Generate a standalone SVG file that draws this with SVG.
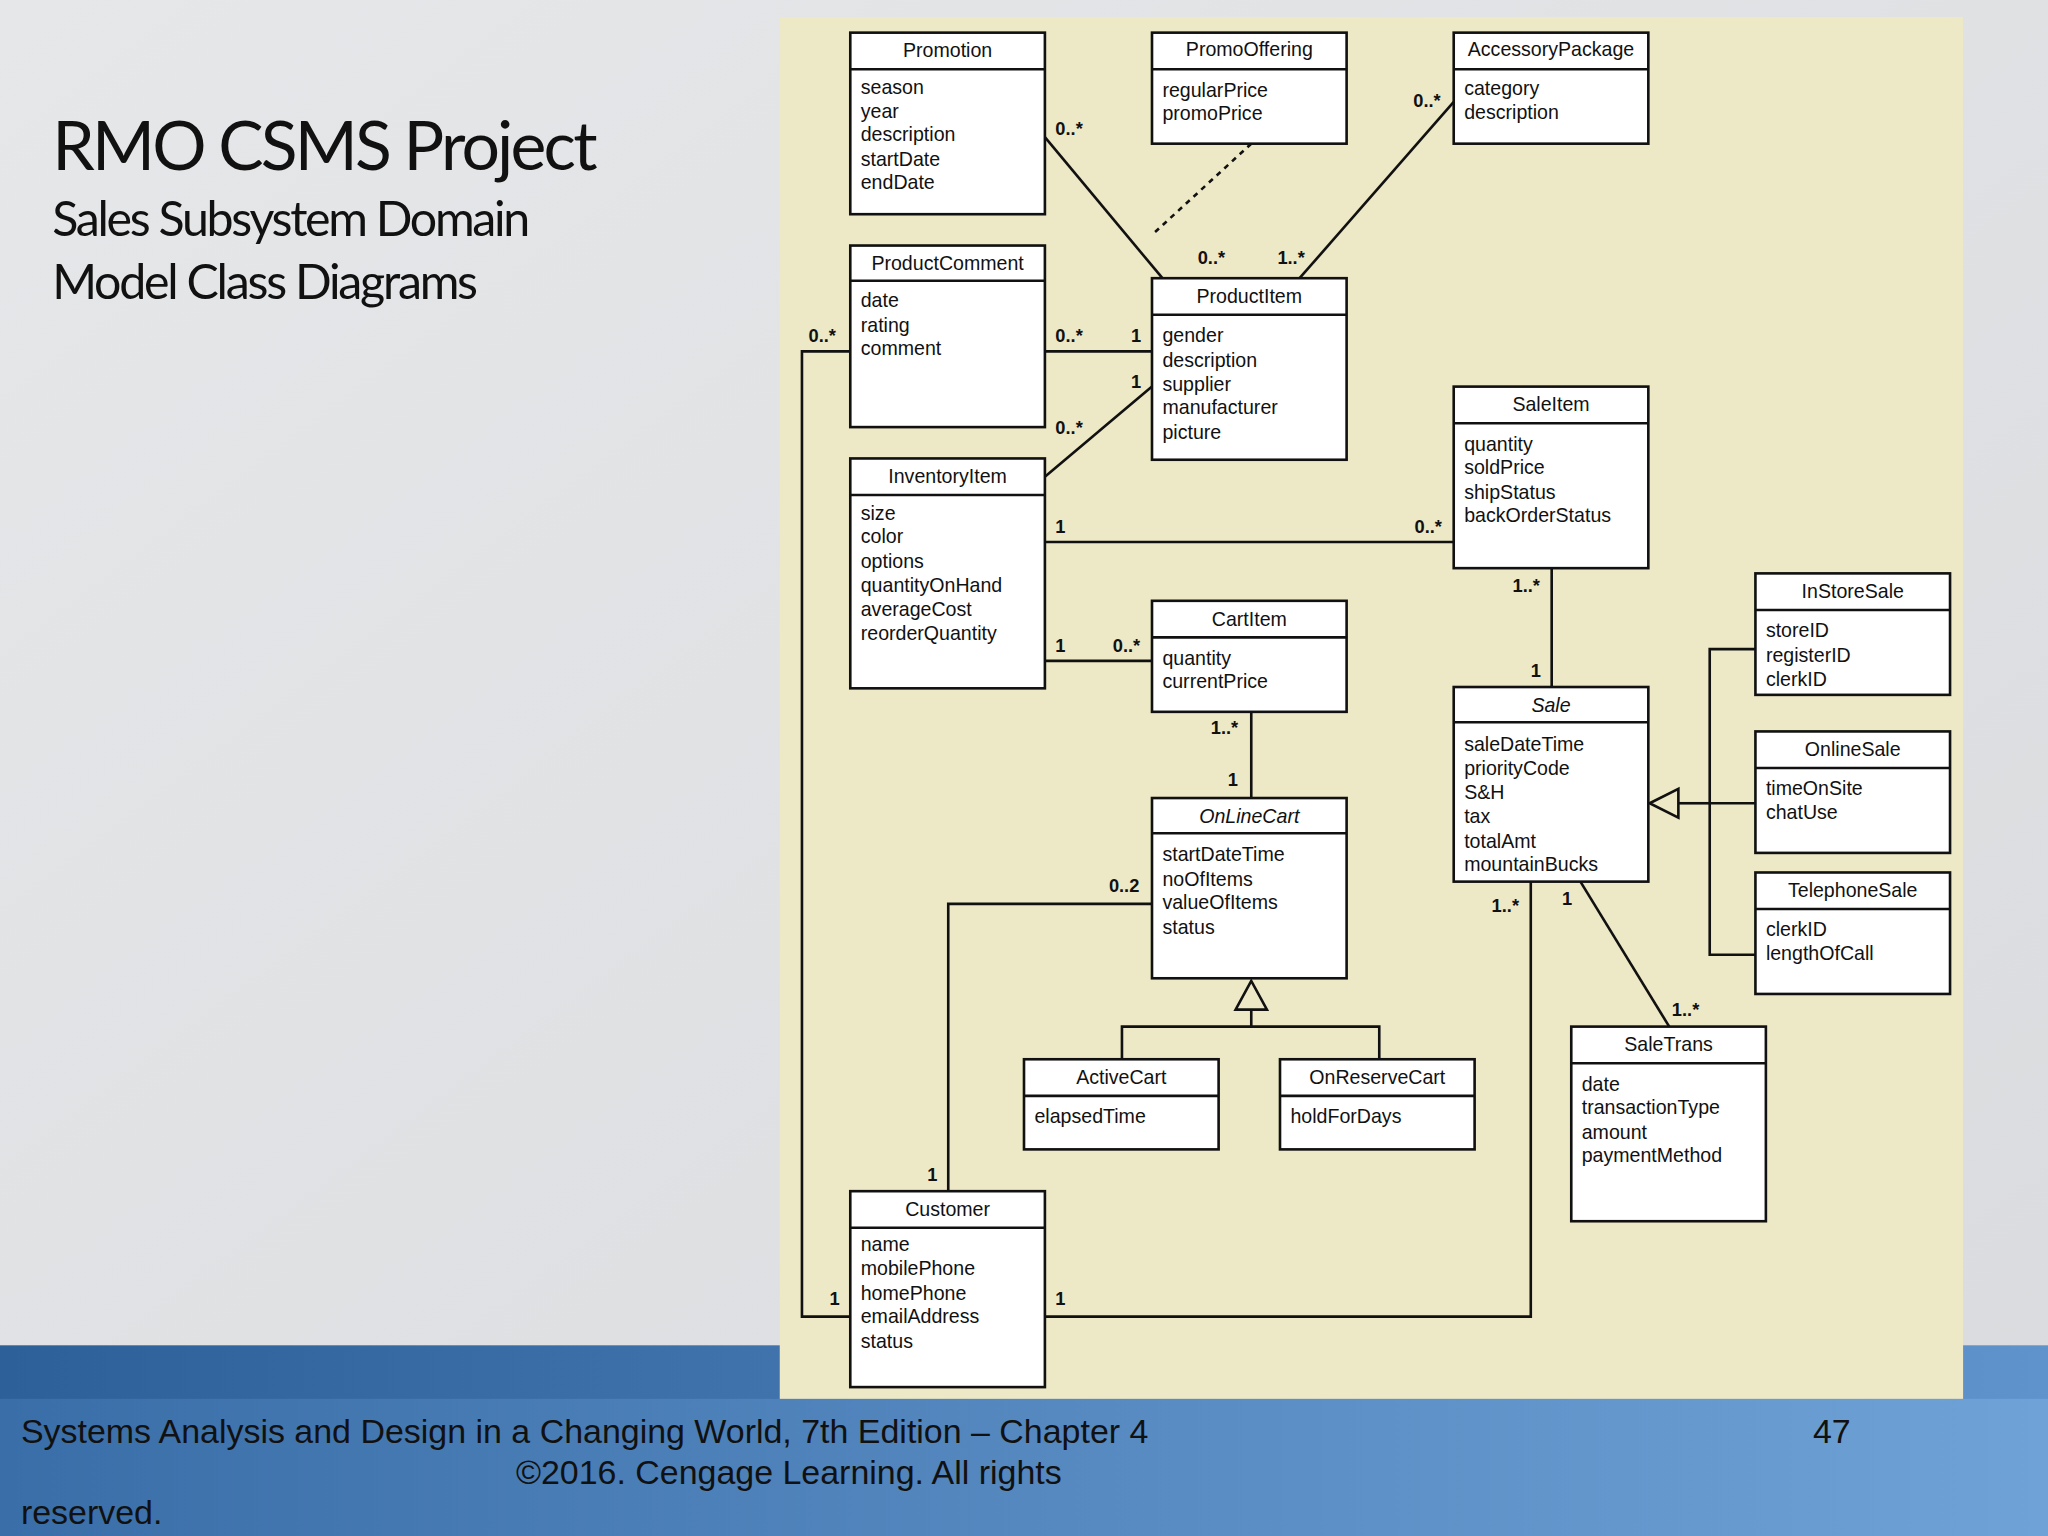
<svg xmlns="http://www.w3.org/2000/svg" width="2048" height="1536" viewBox="0 0 2048 1536">
<defs>
<linearGradient id="bg" x1="0" y1="0" x2="1" y2="1"><stop offset="0" stop-color="#e6e7e9"/><stop offset="1" stop-color="#d9dbde"/></linearGradient>
<linearGradient id="band" x1="0" y1="0" x2="1" y2="0"><stop offset="0" stop-color="#2d5f98"/><stop offset="1" stop-color="#5f93cc"/></linearGradient>
<linearGradient id="band2" x1="0" y1="0" x2="1" y2="0"><stop offset="0" stop-color="#3a6ea8"/><stop offset="1" stop-color="#6fa2d6"/></linearGradient>
</defs>
<style>
.box{fill:#fff;stroke:#111;stroke-width:2}
.ln{fill:none;stroke:#111;stroke-width:2}
.nm{font-family:"Liberation Sans",Arial,sans-serif;font-size:15px;text-anchor:middle;fill:#111}
.at{font-family:"Liberation Sans",Arial,sans-serif;font-size:15px;fill:#111}
.ml{font-family:"Liberation Sans",Arial,sans-serif;font-size:14px;font-weight:bold;fill:#111}
.ft{font-family:"Liberation Sans",Arial,sans-serif;font-size:26px;fill:#111}
</style>
<g transform="scale(1.306122)">
<rect x="0" y="0" width="1568" height="1176" fill="url(#bg)"/>
<rect x="0" y="1030" width="1568" height="146" fill="url(#band)"/>
<rect x="0" y="1071" width="1568" height="105" fill="url(#band2)"/>
<rect x="597" y="13" width="906" height="1058" fill="#ede8c6"/>
<g id="title">
<text x="40" y="130" font-family="Lato,'Open Sans',sans-serif" font-size="52" letter-spacing="-2.5" textLength="415" fill="#111">RMO CSMS Project</text>
<text x="40" y="181" font-family="Lato,'Open Sans',sans-serif" font-size="37" letter-spacing="-2" textLength="364" fill="#111">Sales Subsystem Domain</text>
<text x="40" y="229" font-family="Lato,'Open Sans',sans-serif" font-size="37" letter-spacing="-2" textLength="324" fill="#111">Model Class Diagrams</text>
</g>
<g id="footer">
<text class="ft" x="16" y="1105">Systems Analysis and Design in a Changing World, 7th Edition – Chapter 4</text>
<text class="ft" x="1388" y="1105">47</text>
<text class="ft" x="395" y="1136">©2016. Cengage Learning. All rights</text>
<text class="ft" x="16" y="1167">reserved.</text>
</g>
<g id="connectors">
<line class="ln" x1="800" y1="105" x2="890" y2="213"/>
<line class="ln" x1="958" y1="110" x2="884" y2="178" stroke-dasharray="4,4"/>
<line class="ln" x1="1113" y1="78" x2="995" y2="213"/>
<line class="ln" x1="800" y1="269" x2="882" y2="269"/>
<line class="ln" x1="800" y1="365" x2="882" y2="296"/>
<line class="ln" x1="800" y1="415" x2="1113" y2="415"/>
<line class="ln" x1="800" y1="506" x2="882" y2="506"/>
<line class="ln" x1="1188" y1="435" x2="1188" y2="526"/>
<line class="ln" x1="958" y1="545" x2="958" y2="611"/>
<polyline class="ln" points="882,692 726,692 726,912"/>
<polyline class="ln" points="651,269 614,269 614,1008 651,1008"/>
<polyline class="ln" points="800,1008 1172,1008 1172,675"/>
<line class="ln" x1="1210" y1="675" x2="1278" y2="786"/>
<polygon class="ln" points="1263,615 1285,604 1285,626" fill="#fff"/>
<polyline class="ln" points="1285,615 1309,615"/>
<polyline class="ln" points="1344,497 1309,497 1309,731 1344,731"/>
<line class="ln" x1="1309" y1="615" x2="1344" y2="615"/>
<polygon class="ln" points="958,751 946,773 970,773" fill="#fff"/>
<polyline class="ln" points="958,773 958,786"/>
<polyline class="ln" points="859,811 859,786 1056,786 1056,811"/>
<text class="ml" x="808" y="103">0..*</text>
<text class="ml" x="917" y="202">0..*</text>
<text class="ml" x="1082" y="82">0..*</text>
<text class="ml" x="978" y="202">1..*</text>
<text class="ml" x="808" y="262">0..*</text>
<text class="ml" x="866" y="262">1</text>
<text class="ml" x="808" y="332">0..*</text>
<text class="ml" x="866" y="297">1</text>
<text class="ml" x="808" y="408">1</text>
<text class="ml" x="1083" y="408">0..*</text>
<text class="ml" x="808" y="499">1</text>
<text class="ml" x="852" y="499">0..*</text>
<text class="ml" x="1158" y="453">1..*</text>
<text class="ml" x="1172" y="518">1</text>
<text class="ml" x="927" y="562">1..*</text>
<text class="ml" x="940" y="602">1</text>
<text class="ml" x="849" y="683">0..2</text>
<text class="ml" x="710" y="904">1</text>
<text class="ml" x="619" y="262">0..*</text>
<text class="ml" x="635" y="999">1</text>
<text class="ml" x="808" y="999">1</text>
<text class="ml" x="1142" y="698">1..*</text>
<text class="ml" x="1196" y="693">1</text>
<text class="ml" x="1280" y="778">1..*</text>
</g>
<g id="Promotion"><rect class="box" x="651" y="25" width="149" height="139"/><line class="ln" x1="651" y1="53" x2="800" y2="53"/><text class="nm" x="725.5" y="44">Promotion</text><text class="at" x="659" y="72">season</text><text class="at" x="659" y="90">year</text><text class="at" x="659" y="108">description</text><text class="at" x="659" y="127">startDate</text><text class="at" x="659" y="145">endDate</text></g>
<g id="PromoOffering"><rect class="box" x="882" y="25" width="149" height="85"/><line class="ln" x1="882" y1="53" x2="1031" y2="53"/><text class="nm" x="956.5" y="43">PromoOffering</text><text class="at" x="890" y="74">regularPrice</text><text class="at" x="890" y="92">promoPrice</text></g>
<g id="AccessoryPackage"><rect class="box" x="1113" y="25" width="149" height="85"/><line class="ln" x1="1113" y1="53" x2="1262" y2="53"/><text class="nm" x="1187.5" y="43">AccessoryPackage</text><text class="at" x="1121" y="73">category</text><text class="at" x="1121" y="91">description</text></g>
<g id="ProductComment"><rect class="box" x="651" y="188" width="149" height="139"/><line class="ln" x1="651" y1="215" x2="800" y2="215"/><text class="nm" x="725.5" y="207">ProductComment</text><text class="at" x="659" y="235">date</text><text class="at" x="659" y="254">rating</text><text class="at" x="659" y="272">comment</text></g>
<g id="ProductItem"><rect class="box" x="882" y="213" width="149" height="139"/><line class="ln" x1="882" y1="241" x2="1031" y2="241"/><text class="nm" x="956.5" y="232">ProductItem</text><text class="at" x="890" y="262">gender</text><text class="at" x="890" y="281">description</text><text class="at" x="890" y="299">supplier</text><text class="at" x="890" y="317">manufacturer</text><text class="at" x="890" y="336">picture</text></g>
<g id="SaleItem"><rect class="box" x="1113" y="296" width="149" height="139"/><line class="ln" x1="1113" y1="324" x2="1262" y2="324"/><text class="nm" x="1187.5" y="315">SaleItem</text><text class="at" x="1121" y="345">quantity</text><text class="at" x="1121" y="363">soldPrice</text><text class="at" x="1121" y="382">shipStatus</text><text class="at" x="1121" y="400">backOrderStatus</text></g>
<g id="InventoryItem"><rect class="box" x="651" y="351" width="149" height="176"/><line class="ln" x1="651" y1="379" x2="800" y2="379"/><text class="nm" x="725.5" y="370">InventoryItem</text><text class="at" x="659" y="398">size</text><text class="at" x="659" y="416">color</text><text class="at" x="659" y="435">options</text><text class="at" x="659" y="453">quantityOnHand</text><text class="at" x="659" y="472">averageCost</text><text class="at" x="659" y="490">reorderQuantity</text></g>
<g id="CartItem"><rect class="box" x="882" y="460" width="149" height="85"/><line class="ln" x1="882" y1="488" x2="1031" y2="488"/><text class="nm" x="956.5" y="479">CartItem</text><text class="at" x="890" y="509">quantity</text><text class="at" x="890" y="527">currentPrice</text></g>
<g id="InStoreSale"><rect class="box" x="1344" y="439" width="149" height="93"/><line class="ln" x1="1344" y1="467" x2="1493" y2="467"/><text class="nm" x="1418.5" y="458">InStoreSale</text><text class="at" x="1352" y="488">storeID</text><text class="at" x="1352" y="507">registerID</text><text class="at" x="1352" y="525">clerkID</text></g>
<g id="Sale"><rect class="box" x="1113" y="526" width="149" height="149"/><line class="ln" x1="1113" y1="553" x2="1262" y2="553"/><text class="nm" x="1187.5" y="545" font-style="italic">Sale</text><text class="at" x="1121" y="575">saleDateTime</text><text class="at" x="1121" y="593">priorityCode</text><text class="at" x="1121" y="612">S&amp;H</text><text class="at" x="1121" y="630">tax</text><text class="at" x="1121" y="649">totalAmt</text><text class="at" x="1121" y="667">mountainBucks</text></g>
<g id="OnlineSale"><rect class="box" x="1344" y="560" width="149" height="93"/><line class="ln" x1="1344" y1="588" x2="1493" y2="588"/><text class="nm" x="1418.5" y="579">OnlineSale</text><text class="at" x="1352" y="609">timeOnSite</text><text class="at" x="1352" y="627">chatUse</text></g>
<g id="OnLineCart"><rect class="box" x="882" y="611" width="149" height="138"/><line class="ln" x1="882" y1="638" x2="1031" y2="638"/><text class="nm" x="956.5" y="630" font-style="italic">OnLineCart</text><text class="at" x="890" y="659">startDateTime</text><text class="at" x="890" y="678">noOfItems</text><text class="at" x="890" y="696">valueOfItems</text><text class="at" x="890" y="715">status</text></g>
<g id="TelephoneSale"><rect class="box" x="1344" y="668" width="149" height="93"/><line class="ln" x1="1344" y1="696" x2="1493" y2="696"/><text class="nm" x="1418.5" y="687">TelephoneSale</text><text class="at" x="1352" y="717">clerkID</text><text class="at" x="1352" y="735">lengthOfCall</text></g>
<g id="SaleTrans"><rect class="box" x="1203" y="786" width="149" height="149"/><line class="ln" x1="1203" y1="814" x2="1352" y2="814"/><text class="nm" x="1277.5" y="805">SaleTrans</text><text class="at" x="1211" y="835">date</text><text class="at" x="1211" y="853">transactionType</text><text class="at" x="1211" y="872">amount</text><text class="at" x="1211" y="890">paymentMethod</text></g>
<g id="ActiveCart"><rect class="box" x="784" y="811" width="149" height="69"/><line class="ln" x1="784" y1="839" x2="933" y2="839"/><text class="nm" x="858.5" y="830">ActiveCart</text><text class="at" x="792" y="860">elapsedTime</text></g>
<g id="OnReserveCart"><rect class="box" x="980" y="811" width="149" height="69"/><line class="ln" x1="980" y1="839" x2="1129" y2="839"/><text class="nm" x="1054.5" y="830">OnReserveCart</text><text class="at" x="988" y="860">holdForDays</text></g>
<g id="Customer"><rect class="box" x="651" y="912" width="149" height="150"/><line class="ln" x1="651" y1="940" x2="800" y2="940"/><text class="nm" x="725.5" y="931">Customer</text><text class="at" x="659" y="958">name</text><text class="at" x="659" y="976">mobilePhone</text><text class="at" x="659" y="995">homePhone</text><text class="at" x="659" y="1013">emailAddress</text><text class="at" x="659" y="1032">status</text></g>
</g>
</svg>
